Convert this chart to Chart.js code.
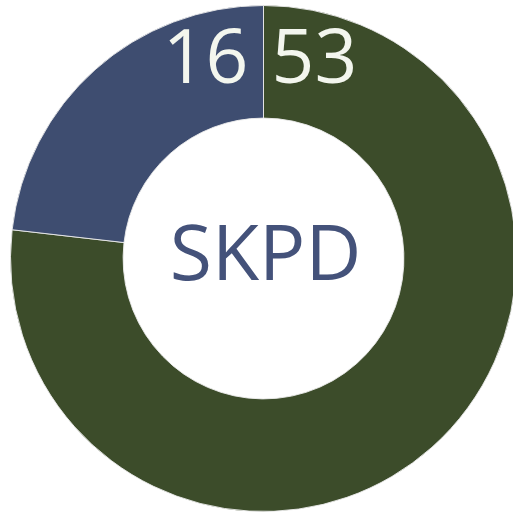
<!DOCTYPE html>
<html>
<head>
<meta charset="utf-8">
<script src="https://cdn.jsdelivr.net/npm/chart.js@4/dist/chart.umd.min.js"></script>
<style>
  html, body { margin: 0; padding: 0; background: #ffffff; overflow: hidden; }
  #chart { position: absolute; left: 0; top: 0; }
</style>
</head>
<body>
<canvas id="chart" width="528" height="516"></canvas>
<script>
// Segment data (clockwise from 12 o'clock)
const categories = ['Lainnya', 'SKPD'];
const values = [53, 16];
const colors = ['#3c4c2a', '#3e4d70'];
const centerLabel = 'SKPD';

const FONT = '"Open Sans", "Noto Sans", sans-serif';

// Value labels sit beside the top seam, at mid-ring height
const valueLabels = {
  id: 'valueLabels',
  afterDatasetsDraw(chart) {
    const { ctx } = chart;
    const meta = chart.getDatasetMeta(0);
    const ds = chart.data.datasets[0];
    ctx.save();
    ctx.font = '75px ' + FONT;
    ctx.fillStyle = '#f3f6ee';
    ctx.textBaseline = 'middle';
    meta.data.forEach((arc, i) => {
      const p = arc.getProps(['x', 'y', 'startAngle', 'endAngle', 'innerRadius', 'outerRadius'], true);
      const r = (p.innerRadius + p.outerRadius) / 2;
      if (i === 0) {
        const a = p.startAngle;
        ctx.textAlign = 'left';
        ctx.fillText(String(ds.data[i]), p.x + Math.cos(a) * r + 8, p.y + Math.sin(a) * r);
      } else {
        const a = p.endAngle;
        ctx.textAlign = 'right';
        ctx.fillText(String(ds.data[i]), p.x + Math.cos(a) * r - 15, p.y + Math.sin(a) * r);
      }
    });
    ctx.restore();
  }
};

// Title in the hole
const centerText = {
  id: 'centerText',
  afterDraw(chart) {
    const { ctx } = chart;
    const arc = chart.getDatasetMeta(0).data[0];
    ctx.save();
    ctx.font = '77px ' + FONT;
    ctx.fillStyle = '#44527a';
    ctx.textAlign = 'center';
    ctx.textBaseline = 'middle';
    ctx.fillText(centerLabel, arc.x + 2, arc.y);
    ctx.restore();
  }
};

new Chart(document.getElementById('chart'), {
  type: 'doughnut',
  data: {
    labels: categories,
    datasets: [{
      data: values,
      backgroundColor: colors,
      borderColor: 'rgba(235,235,235,0.9)',
      borderWidth: 1
    }]
  },
  options: {
    responsive: false,
    animation: false,
    cutout: '55.5%',
    layout: { padding: { left: 10, right: 11, top: 5, bottom: 4 } },
    plugins: {
      legend: { display: false },
      tooltip: { enabled: false }
    }
  },
  plugins: [valueLabels, centerText]
});
</script>
</body>
</html>
